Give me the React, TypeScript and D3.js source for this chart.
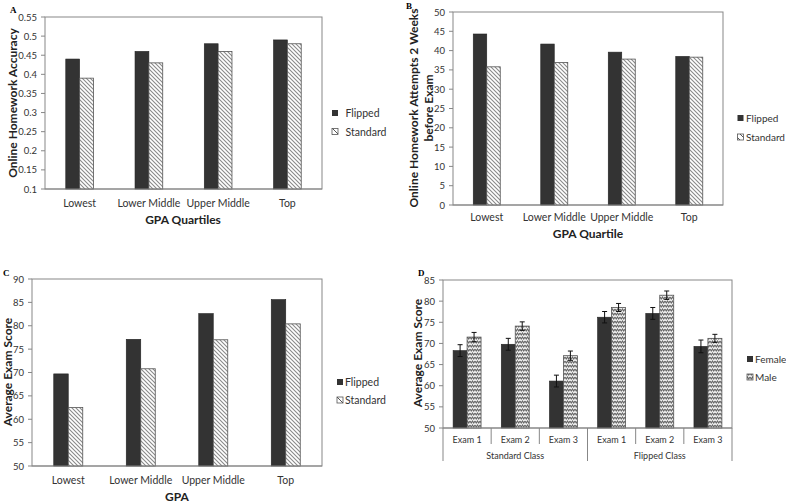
import React from "react";
import * as d3 from "d3";

const quartiles = ["Lowest", "Lower Middle", "Upper Middle", "Top"];
const seriesAB = ["Flipped", "Standard"];
const accuracyFlipped = [0.44, 0.46, 0.48, 0.49];
const accuracyStandard = [0.39, 0.43, 0.46, 0.48];
const attemptsFlipped = [44.3, 41.7, 39.6, 38.5];
const attemptsStandard = [35.8, 36.9, 37.8, 38.3];
const examFlipped = [69.7, 77.1, 82.6, 85.6];
const examStandard = [62.5, 70.8, 77.0, 80.4];
const exams = ["Exam 1", "Exam 2", "Exam 3", "Exam 1", "Exam 2", "Exam 3"];
const classGroups = ["Standard Class", "Flipped Class"];
const genders = ["Female", "Male"];
const femaleScore = [68.3, 69.8, 61.1, 76.2, 77.1, 69.3];
const maleScore = [71.5, 74.1, 67.1, 78.5, 81.4, 71.2];
const femaleErr = [1.4, 1.4, 1.4, 1.35, 1.4, 1.5];
const maleErr = [1.1, 1.0, 1.1, 0.95, 1.0, 0.95];
const ticksA = [0.1, 0.15, 0.2, 0.25, 0.3, 0.35, 0.4, 0.45, 0.5, 0.55];
const ticksB = [0, 5, 10, 15, 20, 25, 30, 35, 40, 45, 50];
const ticksC = [50, 55, 60, 65, 70, 75, 80, 85, 90];
const ticksD = [50, 55, 60, 65, 70, 75, 80, 85];

const FONT = "Lato, 'Open Sans', sans-serif";
const SERIF = "'Liberation Serif', 'DejaVu Serif', serif";
const DARK = "#333333";
const AXIS = "#878787";

type PanelProps = {
  x0: number; x1: number; yTop: number; yBot: number;
  domain: [number, number]; ticks: number[]; fmt: (v: number) => string;
  cats: string[]; s1: number[]; s2: number[]; e1?: number[]; e2?: number[];
  pattern: string; pi: number; po: number;
};

function Bars(p: PanelProps) {
  const x = d3.scaleBand<string>().domain(p.cats.map((c, i) => i + "")).range([p.x0, p.x1]).paddingInner(p.pi).paddingOuter(p.po);
  const sub = d3.scaleBand<string>().domain(["a", "b"]).range([0, x.bandwidth()]);
  const y = d3.scaleLinear().domain(p.domain).range([p.yBot, p.yTop]);
  const bw = sub.bandwidth();
  return (
    <g>
      <rect x={p.x0} y={p.yTop} width={p.x1 - p.x0} height={p.yBot - p.yTop} fill="white" stroke={AXIS} strokeWidth={1} />
      {p.ticks.map((t) => (
        <g key={t}>
          <line x1={p.x0 - 4} x2={p.x0} y1={y(t)} y2={y(t)} stroke={AXIS} />
          <text x={p.x0 - 8} y={y(t)} textAnchor="end" dominantBaseline="central" fontSize={9.5} fill="#333" fontFamily={FONT}>{p.fmt(t)}</text>
        </g>
      ))}
      {p.cats.map((c, i) => {
        const gx = x(i + "")!;
        const v1 = p.s1[i], v2 = p.s2[i];
        return (
          <g key={i}>
            <rect x={gx + sub("a")!} y={y(v1)} width={bw} height={p.yBot - y(v1)} fill={DARK} stroke="#222" strokeWidth={0.6} />
            <rect x={gx + sub("b")!} y={y(v2)} width={bw} height={p.yBot - y(v2)} fill={`url(#${p.pattern})`} stroke="#555" strokeWidth={0.8} />
            {p.e1 && (
              <path d={`M${gx + bw / 2},${y(v1 - p.e1[i])}V${y(v1 + p.e1[i])}M${gx + bw / 2 - 2.5},${y(v1 - p.e1[i])}h5M${gx + bw / 2 - 2.5},${y(v1 + p.e1[i])}h5`} stroke="#111" strokeWidth={1} fill="none" />
            )}
            {p.e2 && (
              <path d={`M${gx + bw * 1.5},${y(v2 - p.e2[i])}V${y(v2 + p.e2[i])}M${gx + bw * 1.5 - 2.5},${y(v2 - p.e2[i])}h5M${gx + bw * 1.5 - 2.5},${y(v2 + p.e2[i])}h5`} stroke="#111" strokeWidth={1} fill="none" />
            )}
          </g>
        );
      })}
      <line x1={p.x0} x2={p.x1} y1={p.yBot} y2={p.yBot} stroke={AXIS} />
    </g>
  );
}

function CatLabels({ cats, x0, x1, y, pi, po }: { cats: string[]; x0: number; x1: number; y: number; pi: number; po: number }) {
  const x = d3.scaleBand<string>().domain(cats.map((c, i) => i + "")).range([x0, x1]).paddingInner(pi).paddingOuter(po);
  return (
    <g>
      {cats.map((c, i) => (
        <text key={i} x={x(i + "")! + x.bandwidth() / 2} y={y} textAnchor="middle" dominantBaseline="central" fontSize={10.5} fill="#333" fontFamily={FONT}>{c}</text>
      ))}
    </g>
  );
}

function Legend({ x, tx, y, gap, labels, pattern, fs }: { x: number; tx: number; y: number; gap: number; labels: string[]; pattern: string; fs: number }) {
  const s = 6;
  return (
    <g fontFamily={FONT} fontSize={fs} fill="#333">
      <rect x={x} y={y - s / 2} width={s} height={s} fill={DARK} />
      <text x={tx} y={y} dominantBaseline="central">{labels[0]}</text>
      <rect x={x} y={y + gap - s / 2} width={s} height={s} fill={`url(#${pattern})`} stroke="#555" strokeWidth={0.8} />
      <text x={tx} y={y + gap} dominantBaseline="central">{labels[1]}</text>
    </g>
  );
}

const fmtA = (v: number) => String(+v.toFixed(2));
const fmtInt = (v: number) => String(v);

export default function App() {
  const dX = d3.scaleBand<string>().domain(exams.map((c, i) => i + "")).range([443, 732]);
  return (
    <svg width={786} height={503} style={{ position: "absolute", left: 0, top: 0, background: "white" }} fontFamily={FONT}>
      <defs>
        <pattern id="hatch" patternUnits="userSpaceOnUse" width={4} height={4}>
          <rect width={4} height={4} fill="white" />
          <path d="M-1,-1 L5,5 M-1,3 L1,5 M3,-1 L5,1" stroke="#8a8a8a" strokeWidth={1.1} />
        </pattern>
        <pattern id="hatchLeg" patternUnits="userSpaceOnUse" width={6} height={6}>
          <rect width={6} height={6} fill="white" />
          <path d="M0,0 L6,6" stroke="#555" strokeWidth={1} />
        </pattern>
        <pattern id="zig" patternUnits="userSpaceOnUse" width={5} height={4}>
          <rect width={5} height={4} fill="#f0f0f0" />
          <path d="M0,1 L1.25,3 L2.5,1 L3.75,3 L5,1" stroke="#666" strokeWidth={1.1} fill="none" />
        </pattern>
      </defs>

      {/* Panel A */}
      <text x={10} y={13} fontFamily={SERIF} fontWeight="bold" fontSize={9}>A</text>
      <Bars x0={45} x1={322} yTop={17} yBot={189} domain={[0.1, 0.55]} ticks={ticksA} fmt={fmtA}
        cats={quartiles} s1={accuracyFlipped} s2={accuracyStandard} pattern="hatch" pi={0.6} po={0.3} />
      <CatLabels cats={quartiles} x0={45} x1={322} y={203} pi={0.6} po={0.3} />
      <text x={183} y={219} textAnchor="middle" dominantBaseline="central" fontWeight="bold" fontSize={12} fill="#222">GPA Quartiles</text>
      <text transform="translate(12,103) rotate(-90)" textAnchor="middle" dominantBaseline="central" fontWeight="bold" fontSize={12} fill="#222">Online Homework Accuracy</text>
      <Legend x={332} tx={345.5} y={113} gap={18.5} labels={seriesAB} pattern="hatchLeg" fs={10.5} />

      {/* Panel B */}
      <text x={406} y={9} fontFamily={SERIF} fontWeight="bold" fontSize={9}>B</text>
      <Bars x0={453} x1={723} yTop={12} yBot={205} domain={[0, 50]} ticks={ticksB} fmt={fmtInt}
        cats={quartiles} s1={attemptsFlipped} s2={attemptsStandard} pattern="hatch" pi={0.6} po={0.3} />
      <CatLabels cats={quartiles} x0={453} x1={723} y={217} pi={0.6} po={0.3} />
      <text x={588} y={233} textAnchor="middle" dominantBaseline="central" fontWeight="bold" fontSize={12} fill="#222">GPA Quartile</text>
      <text transform="translate(413,108) rotate(-90)" textAnchor="middle" dominantBaseline="central" fontWeight="bold" fontSize={12} fill="#222">Online  Homework Attempts 2 Weeks</text>
      <text transform="translate(428,108) rotate(-90)" textAnchor="middle" dominantBaseline="central" fontWeight="bold" fontSize={12} fill="#222">before Exam</text>
      <Legend x={737.5} tx={746} y={118} gap={19} labels={seriesAB} pattern="hatchLeg" fs={10} />

      {/* Panel C */}
      <text x={3} y={276} fontFamily={SERIF} fontWeight="bold" fontSize={9}>C</text>
      <Bars x0={32} x1={322} yTop={279} yBot={466} domain={[50, 90]} ticks={ticksC} fmt={fmtInt}
        cats={quartiles} s1={examFlipped} s2={examStandard} pattern="hatch" pi={0.6} po={0.3} />
      <CatLabels cats={quartiles} x0={32} x1={322} y={480} pi={0.6} po={0.3} />
      <text x={177} y={496} textAnchor="middle" dominantBaseline="central" fontWeight="bold" fontSize={12} fill="#222">GPA</text>
      <text transform="translate(7.5,372) rotate(-90)" textAnchor="middle" dominantBaseline="central" fontWeight="bold" fontSize={12} fill="#222">Average Exam Score</text>
      <Legend x={337} tx={345} y={382} gap={18} labels={seriesAB} pattern="hatchLeg" fs={10.5} />

      {/* Panel D */}
      <text x={418} y={276} fontFamily={SERIF} fontWeight="bold" fontSize={9}>D</text>
      <Bars x0={443} x1={732} yTop={280} yBot={428} domain={[50, 85]} ticks={ticksD} fmt={fmtInt}
        cats={exams} s1={femaleScore} s2={maleScore} e1={femaleErr} e2={maleErr} pattern="zig" pi={0.42} po={0.21} />
      {exams.map((e, i) => (
        <text key={i} x={dX(i + "")! + dX.bandwidth() / 2} y={439} textAnchor="middle" dominantBaseline="central" fontSize={9} fill="#333">{e}</text>
      ))}
      {d3.range(0, 7).map((i) => {
        const xx = i === 6 ? 732 : dX(i + "")!;
        const long = i % 3 === 0;
        return <line key={i} x1={xx} x2={xx} y1={428} y2={long ? 461 : 444} stroke={AXIS} />;
      })}
      {classGroups.map((g, k) => (
        <text key={g} x={dX(k * 3 + "")! + dX.bandwidth() * 1.5} y={455.5} textAnchor="middle" dominantBaseline="central" fontSize={9} fill="#333">{g}</text>
      ))}
      <text transform="translate(417,353) rotate(-90)" textAnchor="middle" dominantBaseline="central" fontWeight="bold" fontSize={12} fill="#222">Average Exam Score</text>
      <Legend x={747} tx={755} y={359} gap={18} labels={genders} pattern="zig" fs={10} />
    </svg>
  );
}
